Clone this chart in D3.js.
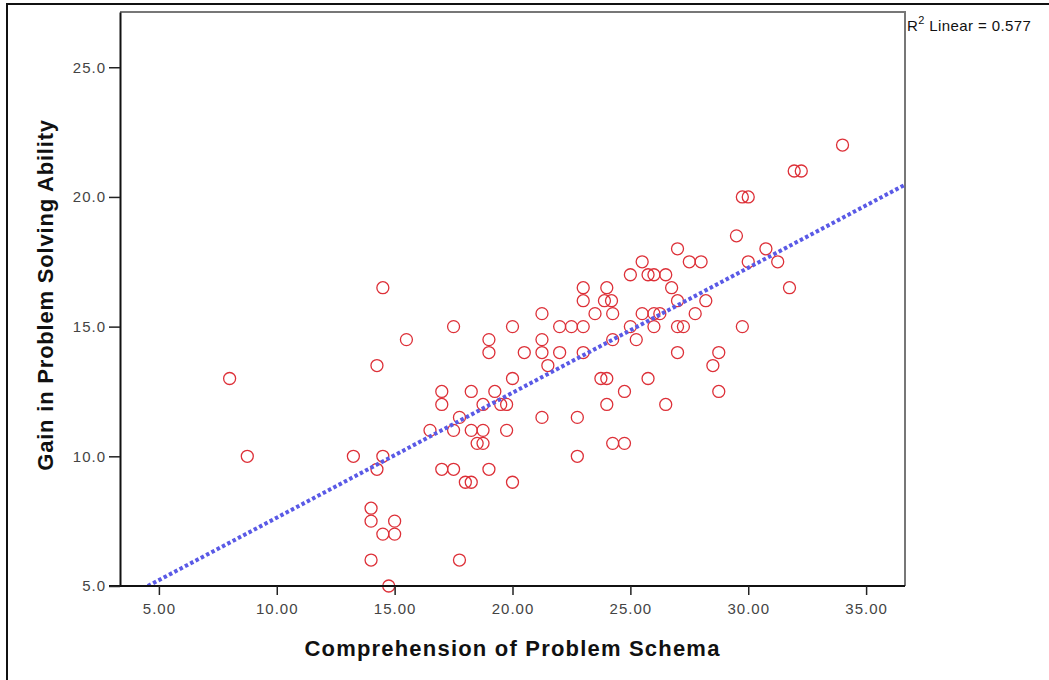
<!DOCTYPE html>
<html>
<head>
<meta charset="utf-8">
<script src="https://cdn.jsdelivr.net/npm/d3@7"></script>
<style>
  body { margin: 0; background: #fff; }
  svg { display: block; font-family: Arial, "Liberation Sans", sans-serif; }
</style>
</head>
<body>
<svg></svg>
<script>
// comprehension score (x) and gain (y)
const comprehension = [
    34, 31.95, 32.25, 29.75, 30, 29.5, 27, 30.75, 25.5, 27.5, 28, 30, 31.25,
    25, 25.75, 26, 26.5, 14.5, 23, 24, 26.75, 31.75, 23, 23.9, 24.2, 27, 28.2,
    21.25, 23.5, 24.25, 25.5, 26, 26.25, 27.75, 17.5, 20, 22, 22.5, 23, 25, 26,
    27, 27.25, 29.75, 15.5, 19, 21.25, 24.25, 25.25, 19, 20.5, 21.25, 22, 23, 27,
    28.75, 14.25, 21.5, 28.5, 8, 20, 23.75, 24, 25.75, 17, 18.25, 19.25, 24.75,
    28.75, 17, 18.75, 19.5, 19.75, 24, 26.5, 17.75, 21.25, 22.75, 16.5, 17.5,
    18.25, 18.75, 19.75, 18.5, 18.75, 24.25, 24.75, 8.75, 13.25, 14.5, 22.75,
    14.25, 17, 17.5, 19, 18, 18.25, 20, 14, 14, 15, 14.5, 15, 14, 17.75, 14.75
];
const gain = [
    22, 21, 21, 20, 20, 18.5, 18, 18, 17.5, 17.5, 17.5, 17.5, 17.5,
    17, 17, 17, 17, 16.5, 16.5, 16.5, 16.5, 16.5, 16, 16, 16, 16, 16,
    15.5, 15.5, 15.5, 15.5, 15.5, 15.5, 15.5, 15, 15, 15, 15, 15, 15, 15,
    15, 15, 15, 14.5, 14.5, 14.5, 14.5, 14.5, 14, 14, 14, 14, 14, 14,
    14, 13.5, 13.5, 13.5, 13, 13, 13, 13, 13, 12.5, 12.5, 12.5, 12.5,
    12.5, 12, 12, 12, 12, 12, 12, 11.5, 11.5, 11.5, 11, 11,
    11, 11, 11, 10.5, 10.5, 10.5, 10.5, 10, 10, 10, 10,
    9.5, 9.5, 9.5, 9.5, 9, 9, 9, 8, 7.5, 7.5, 7, 7, 6, 6, 5
];

// fitted line end points (x, y) and its R²
const fitX = [4.53, 36.65];
const fitY = [5.0, 20.47];
const rSquared = "0.577";

const xTicks = [5, 10, 15, 20, 25, 30, 35];
const yTicks = [5, 10, 15, 20, 25];

const xTitle = "Comprehension of Problem Schema";
const yTitle = "Gain in Problem Solving Ability";

const width = 1049, height = 680;
const plotLeft = 120, plotRight = 905, plotTop = 12, plotBottom = 586;

const svg = d3.select("svg")
    .attr("width", width)
    .attr("height", height);

const x = d3.scaleLinear().domain([3.35, 36.65]).range([plotLeft, plotRight]);
const y = d3.scaleLinear().domain([5, 27.13]).range([plotBottom, plotTop]);

// outer frame (only top and left edges are visible)
svg.append("path")
    .attr("d", `M7,${height} V4 H${width}`)
    .attr("fill", "none")
    .attr("stroke", "#111")
    .attr("stroke-width", 2);

// plot frame, top and right in grey
svg.append("path")
    .attr("d", `M${plotLeft},${plotTop} H${plotRight} V${plotBottom}`)
    .attr("fill", "none")
    .attr("stroke", "#777")
    .attr("stroke-width", 2);

svg.append("defs").append("clipPath").attr("id", "plotClip")
    .append("rect")
    .attr("x", plotLeft).attr("y", plotTop)
    .attr("width", plotRight - plotLeft).attr("height", plotBottom - plotTop);

// points
const points = comprehension.map((c, i) => ({ x: c, y: gain[i] }));

svg.append("g").attr("class", "points")
    .selectAll("circle")
    .data(points)
    .enter()
    .append("circle")
    .attr("cx", d => x(d.x))
    .attr("cy", d => y(d.y))
    .attr("r", 6)
    .attr("fill", "none")
    .attr("stroke", "#dd3038")
    .attr("stroke-width", 1.3);

// dotted fit line
const fitData = fitX.map((v, i) => ({ x: v, y: fitY[i] }));
svg.append("path")
    .datum(fitData)
    .attr("clip-path", "url(#plotClip)")
    .attr("d", d3.line().x(d => x(d.x)).y(d => y(d.y)))
    .attr("fill", "none")
    .attr("stroke", "#5a5ae6")
    .attr("stroke-width", 4)
    .attr("stroke-dasharray", "3.5,2.5");

// axes
const xAxis = svg.append("g")
    .attr("transform", `translate(0,${plotBottom})`)
    .call(d3.axisBottom(x).tickValues(xTicks).tickFormat(d3.format(".2f")).tickSize(9).tickSizeOuter(0).tickPadding(8));

const yAxis = svg.append("g")
    .attr("transform", `translate(${plotLeft},0)`)
    .call(d3.axisLeft(y).tickValues(yTicks).tickFormat(d3.format(".1f")).tickSize(11).tickSizeOuter(0).tickPadding(3));

[xAxis, yAxis].forEach(a => {
    a.select(".domain").attr("stroke", "#111").attr("stroke-width", 2);
    a.selectAll(".tick line").attr("stroke", "#222").attr("stroke-width", 1.5);
    a.selectAll(".tick text")
        .attr("fill", "#444")
        .style("font-size", "15px")
        .style("letter-spacing", "1px")
        .style("font-family", "Arial, 'Liberation Sans', sans-serif");
});
xAxis.select(".domain").attr("d", `M${plotLeft - 11},0 H${plotRight}`);

// titles
svg.append("text")
    .attr("x", (plotLeft + plotRight) / 2)
    .attr("y", 656)
    .attr("text-anchor", "middle")
    .style("font-size", "22px")
    .style("font-weight", "bold")
    .style("letter-spacing", "1.2px")
    .attr("fill", "#111")
    .text(xTitle);

svg.append("text")
    .attr("transform", `translate(53 ${(plotTop + plotBottom) / 2 - 4}) rotate(-90)`)
    .attr("text-anchor", "middle")
    .style("font-size", "22px")
    .style("font-weight", "bold")
    .style("letter-spacing", "0.8px")
    .attr("fill", "#111")
    .text(yTitle);

// R² note
const note = svg.append("text")
    .attr("x", plotRight + 2)
    .attr("y", 31)
    .style("font-size", "15px")
    .style("letter-spacing", "0.4px")
    .attr("fill", "#111");
note.append("tspan").text("R");
note.append("tspan").attr("dy", -7).style("font-size", "11px").text("2");
note.append("tspan").attr("dy", 7).text(" Linear = " + rSquared);
</script>
</body>
</html>
